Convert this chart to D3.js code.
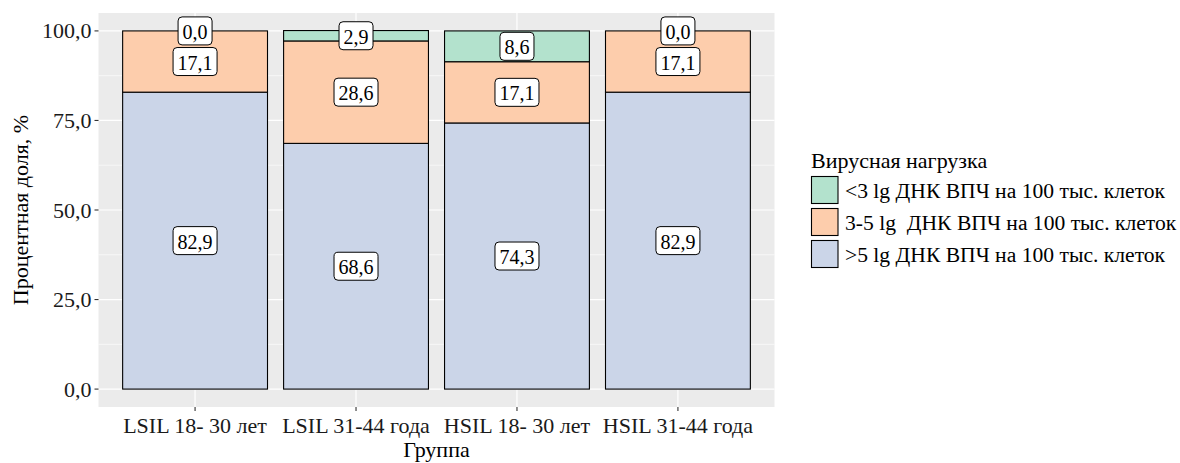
<!DOCTYPE html>
<html><head><meta charset="utf-8">
<script src="https://cdn.jsdelivr.net/npm/d3@7"></script>
<style>body{margin:0;background:#fff}svg{display:block}
svg text{font-family:"Liberation Serif","Tinos","Times New Roman","DejaVu Serif",serif;}</style>
</head><body>
<svg id="c" width="1180" height="463"></svg>
<script>
const groups = ["LSIL 18- 30 лет", "LSIL 31-44 года", "HSIL 18- 30 лет", "HSIL 31-44 года"];
const seriesNames = [">5 lg ДНК ВПЧ на 100 тыс. клеток", "3-5 lg  ДНК ВПЧ на 100 тыс. клеток", "<3 lg ДНК ВПЧ на 100 тыс. клеток"];
const above5 = [82.9, 68.6, 74.3, 82.9];
const from3to5 = [17.1, 28.6, 17.1, 17.1];
const below3 = [0.0, 2.9, 8.6, 0.0];
const yTicks = [0, 25, 50, 75, 100];
const colors = ["#cbd5e8", "#fdcdac", "#b3e2cd"];
const legendOrder = [2, 1, 0];

const svg = d3.select("#c");
const L = 98.5, R = 774.5, T = 13, B = 407;
const y = d3.scaleLinear().domain([-5, 105]).range([B, T]);
const step = (R - L) / (groups.length - 1 + 1.2);
const xc = d3.scalePoint().domain(groups).range([L + 0.6 * step, R - 0.6 * step]);
const bw = 0.9 * step;

svg.append("rect").attr("x", L).attr("y", T).attr("width", R - L).attr("height", B - T).attr("fill", "#ebebeb");
const minor = [12.5, 37.5, 62.5, 87.5];
svg.selectAll(".mn").data(minor).enter().append("line")
  .attr("x1", L).attr("x2", R).attr("y1", d => y(d)).attr("y2", d => y(d))
  .attr("stroke", "#fff").attr("stroke-width", 0.6);
svg.selectAll(".mj").data(yTicks).enter().append("line")
  .attr("x1", L).attr("x2", R).attr("y1", d => y(d)).attr("y2", d => y(d))
  .attr("stroke", "#fff").attr("stroke-width", 1.2);
svg.selectAll(".vg").data(groups).enter().append("line")
  .attr("x1", d => xc(d)).attr("x2", d => xc(d)).attr("y1", T).attr("y2", B)
  .attr("stroke", "#fff").attr("stroke-width", 1.2);

const rows = groups.map((g, i) => ({ g, v: [above5[i], from3to5[i], below3[i]] }));
const stack = d3.stack().keys([0, 1, 2]).value((d, k) => d.v[k]);
const stacked = stack(rows);

stacked.forEach((layer, k) => {
  svg.selectAll(".b" + k).data(layer).enter().append("rect")
    .attr("x", d => xc(d.data.g) - bw / 2)
    .attr("width", bw)
    .attr("y", d => y(d[1]))
    .attr("height", d => y(d[0]) - y(d[1]))
    .attr("fill", colors[k]).attr("stroke", "#000").attr("stroke-width", 1.1);
});

const fmt = v => v.toFixed(1).replace(".", ",");
stacked.forEach((layer, k) => {
  layer.forEach(d => {
    const cx = xc(d.data.g), cy = y((d[0] + d[1]) / 2);
    const g = svg.append("g");
    const t = g.append("text").attr("x", cx).attr("y", cy + 1).attr("text-anchor", "middle")
      .attr("dominant-baseline", "central").attr("font-size", 20)
      .text(fmt(d.data.v[k]));
    const bb = t.node().getBBox();
    g.insert("rect", "text").attr("x", bb.x - 4.5).attr("y", cy - 14).attr("width", bb.width + 9).attr("height", 28)
      .attr("rx", 4).attr("fill", "#fff").attr("stroke", "#000").attr("stroke-width", 1);
  });
});

const ya = svg.append("g");
yTicks.forEach(v => {
  ya.append("line").attr("x1", L - 4).attr("x2", L).attr("y1", y(v)).attr("y2", y(v)).attr("stroke", "#333").attr("stroke-width", 1.1);
  ya.append("text").attr("x", L - 7).attr("y", y(v)).attr("text-anchor", "end").attr("dominant-baseline", "central")
    .attr("font-size", 22).attr("fill", "#1a1a1a").text(fmt(v));
});
groups.forEach(gname => {
  svg.append("line").attr("x1", xc(gname)).attr("x2", xc(gname)).attr("y1", B).attr("y2", B + 4).attr("stroke", "#333").attr("stroke-width", 1.1);
  svg.append("text").attr("x", xc(gname)).attr("y", B + 26).attr("text-anchor", "middle")
    .attr("font-size", 22).attr("fill", "#1a1a1a").text(gname);
});
svg.append("text").attr("x", (L + R) / 2).attr("y", 457).attr("text-anchor", "middle")
  .attr("font-size", 22).text("Группа");
svg.append("text").attr("transform", `translate(28,${(T + B) / 2}) rotate(-90)`).attr("text-anchor", "middle")
  .attr("font-size", 22).text("Процентная доля, %");

const lg = svg.append("g").attr("transform", "translate(811,0)");
lg.append("text").attr("x", 0).attr("y", 168).attr("font-size", 22).text("Вирусная нагрузка");
legendOrder.forEach((k, i) => {
  const yy = 176.5 + i * 32;
  lg.append("rect").attr("x", 0.5).attr("y", yy).attr("width", 26.5).attr("height", 27)
    .attr("fill", colors[k]).attr("stroke", "#000").attr("stroke-width", 1.1);
  lg.append("text").attr("x", 34).attr("y", yy + 14).attr("dominant-baseline", "central")
    .attr("font-size", 21.6).style("white-space", "pre").text(seriesNames[k]);
});
</script>
</body></html>
